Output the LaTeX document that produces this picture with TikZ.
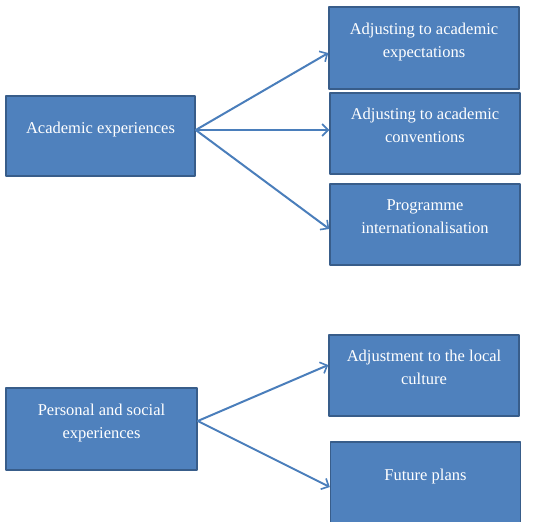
\documentclass[tikz,border=0pt]{standalone}
\usepackage{fontspec}
\setmainfont{Liberation Serif}
\usetikzlibrary{arrows.meta}
\definecolor{boxfill}{HTML}{4F81BD}
\definecolor{boxline}{HTML}{385D8A}
\definecolor{arrowcolor}{HTML}{4A7EBB}

\begin{document}
\begin{tikzpicture}[x=1pt,y=-1pt,line cap=round,line join=round,
  themebox/.style={draw=boxline,fill=boxfill,line width=1.5pt,text=white,align=center,
    minimum width=190pt,minimum height=81pt,inner sep=0pt,text depth=16pt,
    font=\fontsize{16.5}{23}\selectfont},
  linkarrow/.style={draw=arrowcolor,line width=2pt,-{Straight Barb[length=6pt,width=12pt,line width=1.6pt]}}]
  \useasboundingbox (0,0) rectangle (539,522);
  % academic experiences
  \node[themebox,minimum width=189pt,minimum height=80pt] (acad) at (100.5,136) {Academic experiences};
  \node[themebox,minimum height=82pt] (expect) at (424,48) {Adjusting to academic\\expectations};
  \node[themebox] (conv) at (425,133.5) {Adjusting to academic\\conventions};
  \node[themebox] (intl) at (425,224.5) {Programme\\internationalisation};
  \draw[linkarrow] ([yshift=6]acad.east) -- ([yshift=-5]expect.west);
  \draw[linkarrow] ([yshift=6]acad.east) -- ([yshift=3.5]conv.west);
  \draw[linkarrow] ([yshift=6]acad.east) -- ([yshift=-4.5]intl.west);
  % personal and social experiences
  \node[themebox,minimum width=191pt,minimum height=82pt] (pers) at (101.5,429) {Personal and social\\experiences};
  \node[themebox] (local) at (424,375.5) {Adjustment to the local\\culture};
  \node[themebox] (future) at (425.5,482.5) {Future plans};
  \draw[linkarrow] ([yshift=8]pers.east) -- ([yshift=10.5]local.west);
  \draw[linkarrow] ([yshift=8]pers.east) -- ([yshift=-4.5]future.west);
\end{tikzpicture}
\end{document}
